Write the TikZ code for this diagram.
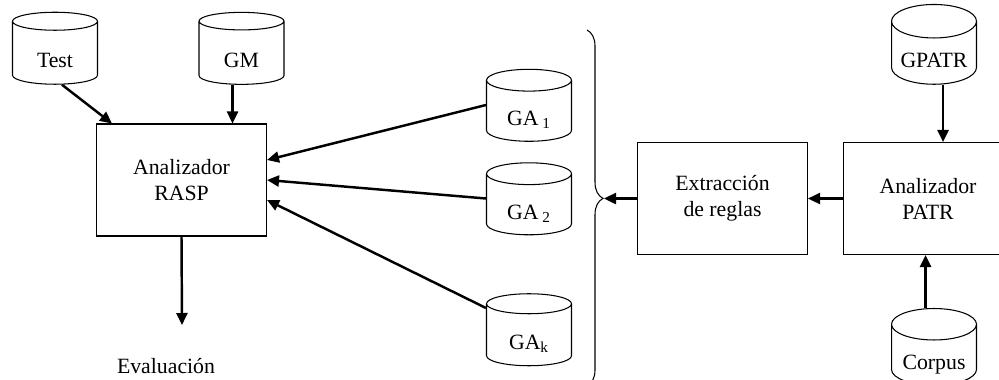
\documentclass[tikz,border=0pt]{standalone}
\usepackage{fontspec}
\setmainfont{Liberation Serif}
\usetikzlibrary{positioning,shapes.geometric,arrows.meta,decorations.pathreplacing}

\begin{document}
\begin{tikzpicture}[x=0.02cm,y=-0.02cm,
        every node/.style={font=\fontsize{12.4}{14.8}\selectfont},
        base/.style={cylinder,draw,line width=0.6pt,shape border rotate=90,aspect=0.5,
            minimum width=1.7cm,minimum height=1.44cm,inner sep=0pt,text height=0.58cm,text depth=-0.18cm},
        caja/.style={draw,line width=0.6pt,minimum width=3.4cm,minimum height=2.24cm,align=center},
        flecha/.style={line width=1.4pt,-{Triangle[length=0.24cm,width=0.22cm]}}]
        \useasboundingbox (0,0) rectangle (999,379);

        \node[base] (test) at (55,53) {Test};
        \node[base] (gm) at (241.5,53) {GM};
        \node[caja] (rasp) at (181.5,180) {Analizador\\RASP};
        \node (eval) at (166,366) {Evaluación};
        \coordinate (salida) at (182,325);

        \node[base] (ga1) at (529,111) {GA\,\textsubscript{1}};
        \node[base] (ga2) at (529,204.5) {GA\,\textsubscript{2}};
        \node[base] (gak) at (529,335) {GA\textsubscript{k}};

        \draw[line width=0.6pt,decorate,decoration={brace,amplitude=0.32cm,aspect=0.473}] (587,30) -- (587,386);
        \coordinate (llave) at (604,198.5);

        \node[caja] (extr) at (722.5,198.5) {Extracción\\de reglas};
        \node[caja] (patr) at (928,198.5) {Analizador\\PATR};
        \node[base] (gpatr) at (934,53) {GPATR};
        \node[base] (corpus) at (934,355) {Corpus};

        \draw[flecha] ([xshift=0.14cm]test.south) -- ([xshift=0.32cm]rasp.north west);
        \draw[flecha] ([xshift=-0.18cm]gm.south) -- ([xshift=-0.18cm]gm.south |- rasp.north);
        \draw[flecha] (rasp.south) -- (salida);
        \draw[flecha] ([yshift=0.12cm]ga1.west) -- ([yshift=0.4cm]rasp.east);
        \draw[flecha] ([yshift=0.12cm]ga2.west) -- (rasp.east);
        \draw[flecha] ([yshift=0.54cm]gak.west) -- ([yshift=-0.4cm]rasp.east);
        \draw[flecha] (extr.west) -- (llave);
        \draw[flecha] (patr.west) -- (extr.east);
        \draw[flecha] ([xshift=0.18cm]gpatr.south) -- ([xshift=0.18cm]gpatr.south |- patr.north);
        \draw[flecha] ([xshift=-0.17cm]corpus.north) -- ([xshift=-0.17cm]corpus.north |- patr.south);
    \end{tikzpicture}
\end{document}
